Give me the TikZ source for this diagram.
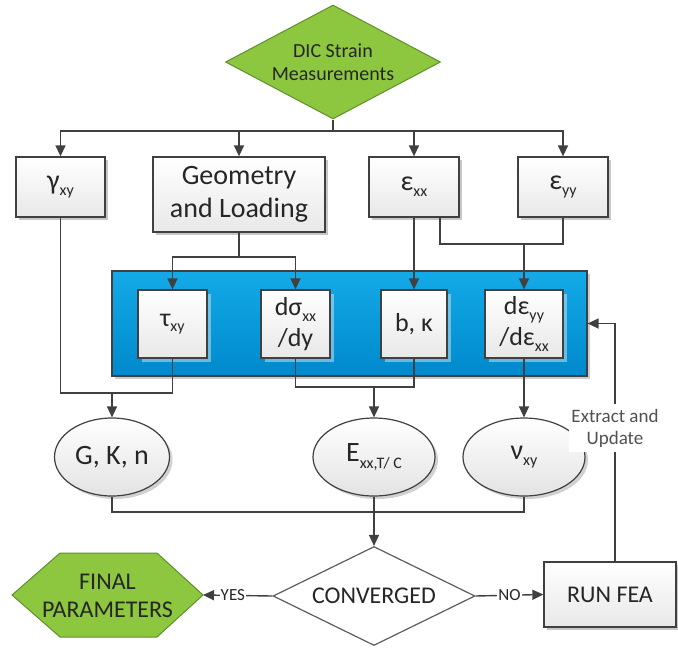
\documentclass[tikz,border=0pt]{standalone}
\usepackage{fontspec}
\setmainfont{Carlito}
\usetikzlibrary{shapes.geometric,arrows.meta,shadows,calc}
\definecolor{lncol}{HTML}{404040}
\definecolor{txcol}{HTML}{262626}
\definecolor{grn}{HTML}{8DC63F}
\definecolor{grnb}{HTML}{5F8F2A}
\definecolor{bluA}{HTML}{14AAE8}
\definecolor{bluB}{HTML}{0089CC}
\newcommand\mysub[1]{\raisebox{-0.22em}{\fontsize{16}{16}\selectfont #1}}
\newcommand\bigf{\fontsize{28}{33}\selectfont}
\newcommand\innerf{\fontsize{26}{31}\selectfont}
\begin{document}
\begin{tikzpicture}[x=1pt,y=-1pt,
  every node/.style={text=txcol},
  conn/.style={draw=lncol, line width=1.4pt},
  arr/.style={draw=lncol, line width=1.4pt, -{Triangle[length=11pt,width=10pt]}},
  box/.style={draw=lncol, line width=1.3pt, top color=white, bottom color=black!9,
    inner sep=0pt, align=center, font=\bigf,
    drop shadow={shadow xshift=3pt,shadow yshift=-3pt,opacity=0.22,fill=black}},
  inbox/.style={draw=lncol, line width=1.3pt, top color=white, bottom color=black!9,
    inner sep=0pt, align=center, font=\innerf, minimum height=68pt,
    drop shadow={shadow xshift=4pt,shadow yshift=-4pt,opacity=0.4,fill=white}},
  ell/.style={ellipse, draw=lncol, line width=1.2pt, top color=white, bottom color=black!11,
    inner sep=0pt, minimum height=78pt, font=\bigf,
    drop shadow={shadow xshift=3pt,shadow yshift=-3pt,opacity=0.18,fill=black}},
  lbl/.style={fill=white, inner sep=1pt, font=\fontsize{17}{17}\selectfont}
]
\useasboundingbox (0,0) rectangle (678,649);

% top decision
\node[diamond, draw=grnb, fill=grn, line width=1pt, minimum width=215pt, minimum height=114pt,
  inner sep=0pt, aspect=1.9, align=center, font=\fontsize{20}{23}\selectfont] (dic) at (333,62)
  {DIC Strain\\Measurements};

% first row
\node[box, minimum width=89pt, minimum height=60pt] (gam) at (60.5,187) {γ\mysub{xy}};
\node[box, minimum width=172pt, minimum height=75pt] (geo) at (239,194.5) {Geometry\\and Loading};
\node[box, minimum width=90pt, minimum height=60pt] (exx) at (414,187) {ε\mysub{xx}};
\node[box, minimum width=90pt, minimum height=60pt] (eyy) at (563,187) {ε\mysub{yy}};

% blue panel
\node[draw=lncol, line width=1.2pt, top color=bluA, bottom color=bluB, minimum width=475pt,
  minimum height=105pt, inner sep=0pt,
  drop shadow={shadow xshift=3pt,shadow yshift=-3pt,opacity=0.2,fill=black}] (blue) at (349.5,323.5) {};
\node[inbox, minimum width=69pt] (tau) at (172.5,324) {τ\mysub{xy}};
\node[inbox, minimum width=69pt] (dsig) at (295.5,324) {dσ\mysub{xx}\\/dy};
\node[inbox, minimum width=66pt] (bk) at (414,324) {b, κ};
\node[inbox, minimum width=78pt] (deyy) at (524,324) {dε\mysub{yy}\\/dε\mysub{xx}};

% ellipses
\node[ell, minimum width=115pt] (G) at (112,457) {G, K, n};
\node[ell, minimum width=122pt] (E) at (374,457) {E\mysub{xx,T/ C}};
\node[ell, minimum width=122pt] (nu) at (524,457) {ν\mysub{xy}};

% bottom row
\node[diamond, draw=lncol!85, fill=white, line width=1.2pt, minimum width=202pt, minimum height=99pt,
  inner sep=0pt, aspect=2, font=\fontsize{24}{28}\selectfont] (conv) at (374,596) {CONVERGED};
\filldraw[draw=grnb, fill=grn, line width=1pt] (12,595) -- (60,553) -- (157,553) -- (203,595)
  -- (157,637) -- (60,637) -- cycle;
\coordinate (fe) at (203,595);
\node[align=center, font=\fontsize{24}{28}\selectfont] (final) at (107.5,596) {FINAL\\PARAMETERS};
\node[box, minimum width=132pt, minimum height=65pt, font=\fontsize{24}{28}\selectfont] (run) at (610,594.5) {RUN FEA};
\node[align=center, fill=white, inner xsep=2pt, inner ysep=4.5pt, text=txcol!80,
  font=\fontsize{19}{22}\selectfont] (ext) at (615,428) {Extract and\\Update};

% connectors
\coordinate (t) at (333,131);
\draw[conn] (dic.south) -- (t);
\draw[arr] (t) -| (gam);
\draw[arr] (t) -| (geo);
\draw[arr] (t) -| (exx);
\draw[arr] (t) -| (eyy);

\coordinate (g1) at (239,257);
\draw[conn] (geo) -- (g1);
\draw[arr] (g1) -| (tau);
\draw[arr] (g1) -| (dsig);

\draw[arr] (exx) -- (bk);
\coordinate (e1) at (440,244);
\coordinate (e2) at (524,244);
\draw[conn] (exx.south -| e1) -- (e1) -| (eyy.south);
\draw[arr] (e2) -- (deyy);

\coordinate (k1) at (112,393);
\draw[conn] (gam.south) |- (k1);
\draw[conn] (tau.south) |- (k1);
\draw[arr] (k1) -- (G);

\coordinate (k2) at (374,387);
\draw[conn] (dsig.south) |- (k2);
\draw[conn] (bk.south) |- (k2);
\draw[arr] (k2) -- (E);

\draw[arr] (deyy) -- (nu);

\coordinate (k3) at (374,512);
\draw[conn] (G.south) |- (k3) -| (nu.south);
\draw[arr] (E.south) -- (conv.north);

\draw[arr] (conv.west) -- node[lbl, pos=0.57] {YES} (fe);
\draw[arr] (conv.east) -- node[lbl, pos=0.5] {NO} (run.west);

\draw[conn] (run.north -| ext.south) -- (ext.south);
\draw[arr] (ext.north) |- (blue.east);
\end{tikzpicture}
\end{document}
